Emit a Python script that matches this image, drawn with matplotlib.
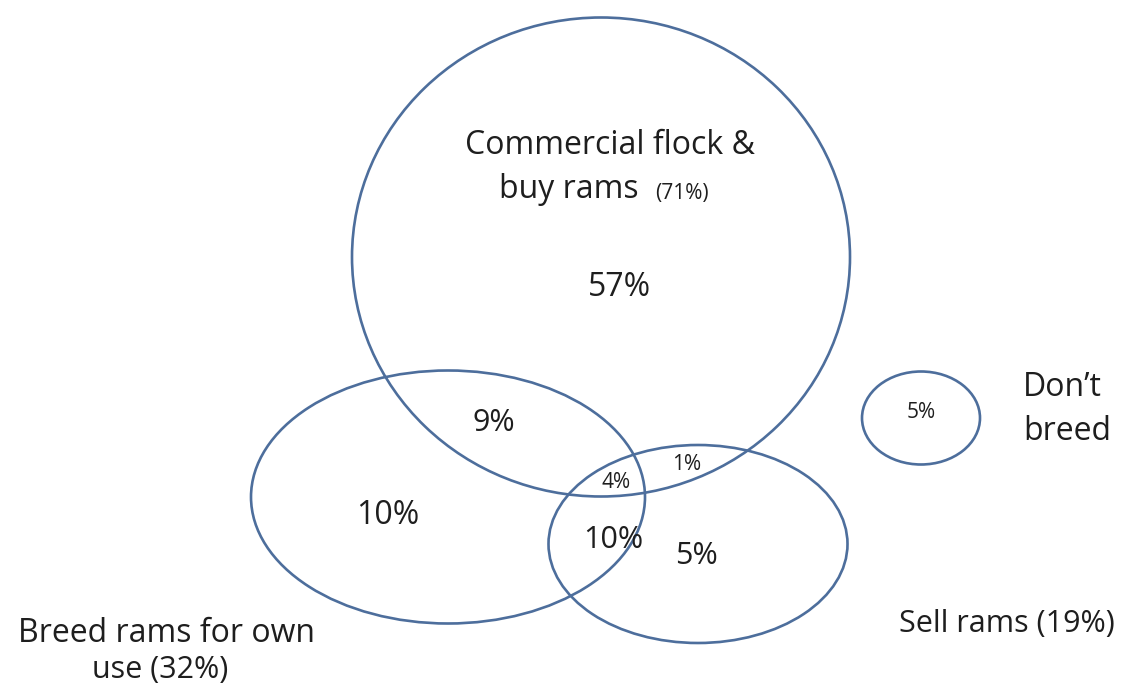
import matplotlib

matplotlib.use("Agg")
import matplotlib.pyplot as plt
from matplotlib.patches import Ellipse

# sets: centre x, centre y, width, height (pixel units)
set_names = ["Commercial flock & buy rams", "Breed rams for own use", "Sell rams", "Don't breed"]
set_cx = [601, 448, 698, 921]
set_cy = [257, 497, 544, 418]
set_w = [498, 394, 299, 118]
set_h = [479, 253, 198, 93]

# region percentages and where they sit
region_labels = ["57%", "9%", "10%", "4%", "1%", "10%", "5%", "5%"]
region_x = [619, 494, 388, 616, 687, 613, 696, 921]
region_y = [287, 423, 515, 482, 464, 540, 556, 412]
region_size = [23, 22, 23, 15, 15, 22, 22, 15]

EDGE = "#4d6e9c"
TEXT = "#1e1e1e"

plt.rcParams["font.family"] = ["Open Sans", "DejaVu Sans"]

fig = plt.figure(figsize=(11.33, 6.9), dpi=100)
ax = fig.add_axes([0, 0, 1, 1])
ax.set_xlim(0, 1133)
ax.set_ylim(690, 0)
ax.axis("off")

for cx, cy, w, h in zip(set_cx, set_cy, set_w, set_h):
    ax.add_patch(Ellipse((cx, cy), w, h, fill=False, edgecolor=EDGE, linewidth=1.9))

for lab, x, y, s in zip(region_labels, region_x, region_y, region_size):
    ax.text(x, y, lab, ha="center", va="center", fontsize=s, color=TEXT)

# set labels
ax.text(610, 145, "Commercial flock &", ha="center", va="center", fontsize=23, color=TEXT)
ax.text(569, 190, "buy rams", ha="center", va="center", fontsize=23, color=TEXT)
ax.text(682, 194, "(71%)", ha="center", va="center", fontsize=15, color=TEXT)
ax.text(1062, 388, "Don\u2019t", ha="center", va="center", fontsize=23, color=TEXT)
ax.text(1067, 432, "breed", ha="center", va="center", fontsize=23, color=TEXT)
ax.text(166, 634, "Breed rams for own", ha="center", va="center", fontsize=23, color=TEXT)
ax.text(160, 670, "use (32%)", ha="center", va="center", fontsize=22, color=TEXT)
ax.text(1007, 624, "Sell rams (19%)", ha="center", va="center", fontsize=22, color=TEXT)

fig.savefig("out.png", dpi=100)
plt.close(fig)
